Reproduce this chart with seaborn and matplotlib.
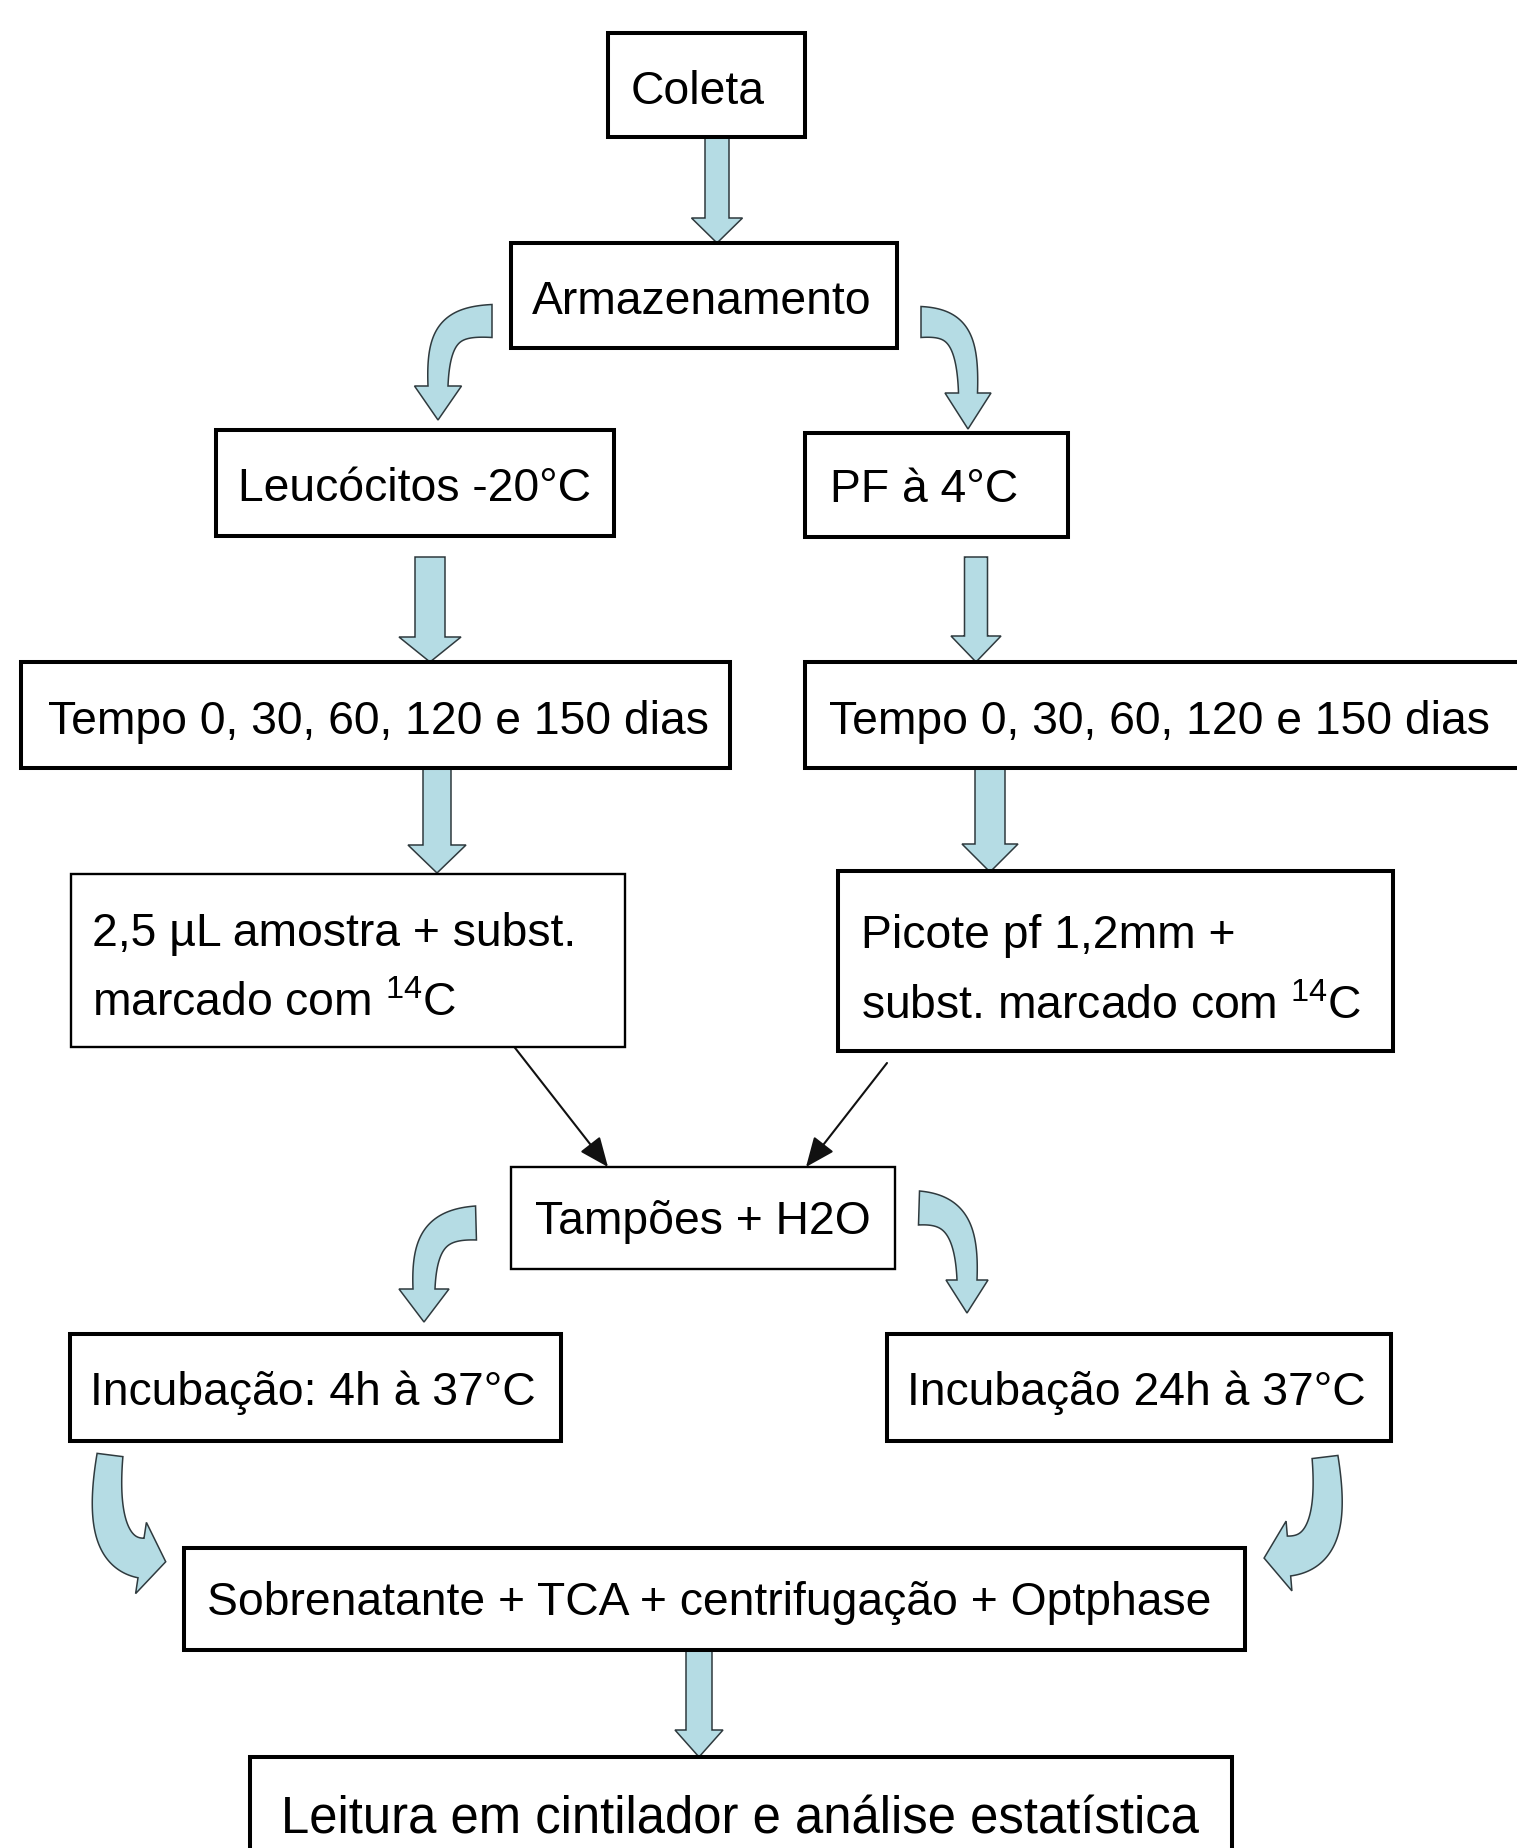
import numpy as np
import matplotlib
matplotlib.use("Agg")
import matplotlib.pyplot as plt
from matplotlib.patches import Rectangle, Polygon, FancyArrowPatch
from matplotlib import font_manager
import seaborn as sns

# ---------------- data (labels of the flowchart) ----------------
box_names = ["coleta", "armaz", "leuc", "pf", "tempoL", "tempoR", "amostra",
             "picote", "tampoes", "incub4", "incub24", "sobren", "leitura"]
box_lines = [
    ["Coleta"],
    ["Armazenamento"],
    ["Leucócitos -20°C"],
    ["PF à 4°C"],
    ["Tempo 0, 30, 60, 120 e 150 dias"],
    ["Tempo 0, 30, 60, 120 e 150 dias"],
    ["2,5 µL amostra + subst.", "marcado com $\\mathregular{^{14}}$C"],
    ["Picote pf 1,2mm +", "subst. marcado com $\\mathregular{^{14}}$C"],
    ["Tampões + H2O"],
    ["Incubação: 4h à 37°C"],
    ["Incubação 24h à 37°C"],
    ["Sobrenatante + TCA + centrifugação + Optphase"],
    ["Leitura em cintilador e análise estatística"],
]

# ---------------- layout (pixel coordinates, y downwards) ----------------
box_rect = {  # x0, y0, x1, y1
    "coleta": (608, 33, 805, 137),
    "armaz": (511, 243, 897, 348),
    "leuc": (216, 430, 614, 536),
    "pf": (805, 433, 1068, 537),
    "tempoL": (21, 662, 730, 768),
    "tempoR": (805, 662, 1540, 768),
    "amostra": (71, 874, 625, 1047),
    "picote": (838, 871, 1393, 1051),
    "tampoes": (511, 1167, 895, 1269),
    "incub4": (70, 1334, 561, 1441),
    "incub24": (887, 1334, 1391, 1441),
    "sobren": (184, 1548, 1245, 1650),
    "leitura": (250, 1757, 1232, 1880),
}
box_lw = {"amostra": 1.7, "tampoes": 1.7}
text_pos = {  # x, first baseline, ha, line step, size scale
    "coleta": (698, 104, "center", 0, 1.0),
    "armaz": (702, 314, "center", 0, 1.0),
    "leuc": (415, 501, "center", 0, 1.0),
    "pf": (830, 502, "left", 0, 1.0),
    "tempoL": (378, 734, "center", 0, 1.0),
    "tempoR": (829, 734, "left", 0, 1.0),
    "amostra": (92, 946, "left", 70, 1.0),
    "picote": (861, 948, "left", 71, 1.0),
    "tampoes": (703, 1234, "center", 0, 1.0),
    "incub4": (313, 1405, "center", 0, 1.0),
    "incub24": (1136, 1405, "center", 0, 1.0),
    "sobren": (709, 1615, "center", 0, 1.0),
    "leitura": (740, 1834, "center", 1.1, 1.1),
}

# straight block arrows: x centre, y start, y tip, shaft width, head width, head length
straight_arrows = [
    (717, 137, 243, 24, 51, 25),
    (430, 557, 662, 30, 62, 25),
    (976, 557, 662, 23, 50, 26),
    (437, 768, 873, 28, 58, 28),
    (990, 768, 872, 30, 56, 28),
    (699, 1650, 1757, 26, 48, 27),
]
# curved block arrows: bezier control points of centreline, tail width, end width, head width, head length
curved_arrows = [
    ([(492, 321), (452, 321), (438, 333), (438, 386)], 33, 20, 47, 34),
    ([(921, 322), (955, 322), (968, 336), (968, 393)], 31, 19, 46, 36),
    ([(476, 1223), (438, 1224), (424, 1240), (424, 1289)], 34, 22, 50, 33),
    ([(919, 1208), (952, 1209), (967, 1226), (967, 1280)], 34, 20, 42, 33),
    ([(110, 1455), (103, 1510), (108, 1553), (141, 1558)], 26, 40, 72, 25),
    ([(1325, 1457), (1332, 1515), (1325, 1553), (1289, 1556)], 26, 40, 70, 25),
]
# thin line arrows
thin_arrows = [((512, 1044), (608, 1167)), ((887, 1063), (806, 1167))]

FILL = "#b5dce4"
EDGE = "#2f3a3e"

# ---------------- style ----------------
sns.set_theme(style="white")
names = {f.name for f in font_manager.fontManager.ttflist}
if "Liberation Sans Narrow" in names:
    FONT = "Liberation Sans Narrow"
    EM = 55.0
else:
    FONT = "Liberation Sans"
    EM = 46.3
plt.rcParams["font.family"] = [FONT, "DejaVu Sans"]

W, H = 1517, 1848
fig = plt.figure(figsize=(W / 100, H / 100), dpi=100)
ax = fig.add_axes([0, 0, 1, 1])
ax.set_xlim(0, W)
ax.set_ylim(H, 0)
ax.axis("off")
fig.patch.set_facecolor("white")


def bezier(P, n=80):
    P = np.asarray(P, float)
    t = np.linspace(0, 1, n)[:, None]
    pts = (1 - t) ** 3 * P[0] + 3 * (1 - t) ** 2 * t * P[1] + 3 * (1 - t) * t ** 2 * P[2] + t ** 3 * P[3]
    d = 3 * (1 - t) ** 2 * (P[1] - P[0]) + 6 * (1 - t) * t * (P[2] - P[1]) + 3 * t ** 2 * (P[3] - P[2])
    return pts, d


def block_arrow(ctrl, w0, w1, hw, hl):
    pts, d = bezier(ctrl)
    d = d / np.linalg.norm(d, axis=1)[:, None]
    nrm = np.column_stack([-d[:, 1], d[:, 0]])
    w = np.linspace(w0, w1, len(pts))[:, None] / 2
    left = pts + nrm * w
    right = pts - nrm * w
    end, te, ne = pts[-1], d[-1], nrm[-1]
    tip = end + te * hl
    poly = np.vstack([left, end + ne * hw / 2, tip, end - ne * hw / 2, right[::-1]])
    ax.add_patch(Polygon(poly, closed=True, fc=FILL, ec=EDGE, lw=1.1, joinstyle="miter", zorder=2))


for x, y0, yt, sw, hw, hl in straight_arrows:
    yb = yt - hl
    ctrl = [(x, y0), (x, y0 + (yb - y0) / 3), (x, y0 + 2 * (yb - y0) / 3), (x, yb)]
    block_arrow(ctrl, sw, sw, hw, hl)

for ctrl, w0, w1, hw, hl in curved_arrows:
    block_arrow(ctrl, w0, w1, hw, hl)

for (p0, p1) in thin_arrows:
    ax.add_patch(FancyArrowPatch(p0, p1, arrowstyle="-|>,head_length=1.3,head_width=0.55",
                                 mutation_scale=14, lw=1.5, color="#111111",
                                 shrinkA=0, shrinkB=0, zorder=3))

for name, lines in zip(box_names, box_lines):
    x0, y0, x1, y1 = box_rect[name]
    ax.add_patch(Rectangle((x0, y0), x1 - x0, y1 - y0, fc="white", ec="black",
                           lw=box_lw.get(name, 2.9), zorder=4))
    tx, ty, ha, step, sc = text_pos[name]
    for i, line in enumerate(lines):
        ax.text(tx, ty + i * step, line, ha=ha, va="baseline",
                fontsize=EM * 0.72 * sc, color="black", zorder=5)

fig.savefig("out.png", dpi=100, facecolor="white")
